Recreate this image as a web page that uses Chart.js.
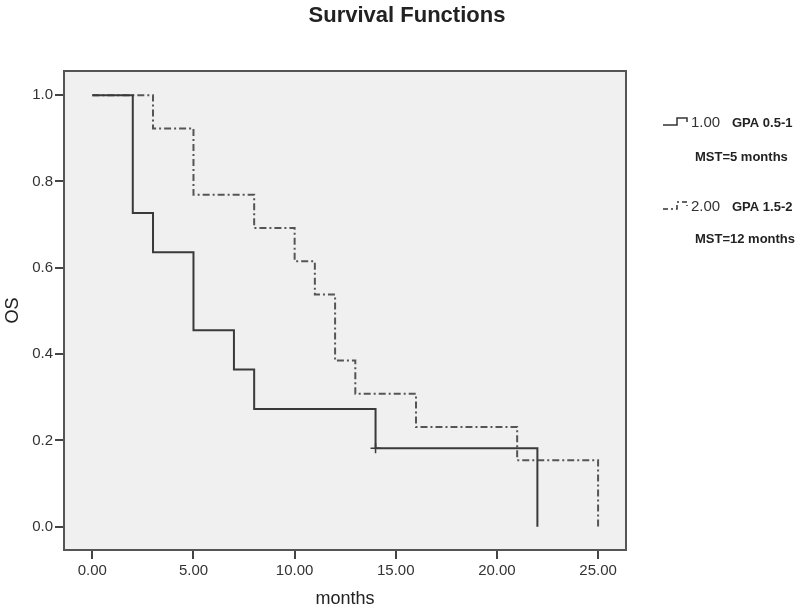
<!DOCTYPE html>
<html>
<head>
<meta charset="utf-8">
<script src="https://cdn.jsdelivr.net/npm/chart.js@4/dist/chart.umd.min.js"></script>
<style>
  body { margin: 0; background: #fff; }
  canvas { display: block; }
</style>
</head>
<body>
<canvas id="km" width="800" height="614"></canvas>
<script>
// Kaplan-Meier steps
const monthsA = [0, 2, 3, 5, 7, 8, 14, 22, 22];
const osA = [1, 0.727, 0.636, 0.455, 0.364, 0.273, 0.182, 0.182, 0];
const monthsB = [0, 3, 5, 8, 10, 11, 12, 13, 16, 21, 25, 25];
const osB = [1, 0.923, 0.769, 0.692, 0.615, 0.538, 0.385, 0.308, 0.231, 0.154, 0.154, 0];
const censorMonthsA = [14];
const censorOsA = [0.182];

const xTicks = [0, 5, 10, 15, 20, 25];
const yTicks = [0, 0.2, 0.4, 0.6, 0.8, 1.0];

const legendCodes = ['1.00', '2.00'];
const legendGroups = ['GPA 0.5-1', 'GPA 1.5-2'];
const legendMst = ['MST=5 months', 'MST=12 months'];

const FONT = '"Liberation Sans", Arial, sans-serif';
const INK = '#333';
const DASH = [7, 3, 2, 3];

const toPoints = (xs, ys) => xs.map((x, i) => ({ x: x, y: ys[i] }));

const frame = {
  id: 'frame',
  beforeDraw(chart) {
    const { ctx, chartArea: a } = chart;
    ctx.save();
    ctx.fillStyle = '#f0f0f0';
    ctx.fillRect(a.left, a.top, a.right - a.left, a.bottom - a.top);
    ctx.restore();
  },
  afterDraw(chart) {
    const { ctx, chartArea: a } = chart;
    ctx.save();
    ctx.strokeStyle = '#555';
    ctx.lineWidth = 2;
    ctx.strokeRect(a.left, a.top, a.right - a.left, a.bottom - a.top);

    // title
    ctx.fillStyle = '#222';
    ctx.font = 'bold 22px ' + FONT;
    ctx.textAlign = 'center';
    ctx.textBaseline = 'middle';
    ctx.fillText('Survival Functions', 407, 16);

    // legend
    const rows = [123, 207];
    const mstRows = [157, 239];
    rows.forEach((y, i) => {
      ctx.strokeStyle = '#333';
      ctx.lineWidth = 1.5;
      ctx.setLineDash(i === 1 ? [5, 3, 2, 3] : []);
      ctx.beginPath();
      ctx.moveTo(663, y + 2);
      ctx.lineTo(677, y + 2);
      ctx.lineTo(677, y - 5);
      ctx.lineTo(687, y - 5);
      ctx.lineTo(687, y - 1);
      ctx.stroke();
      ctx.setLineDash([]);

      ctx.textAlign = 'left';
      ctx.fillStyle = '#333';
      ctx.font = '15px ' + FONT;
      ctx.fillText(legendCodes[i], 691, y);
      ctx.fillStyle = '#222';
      ctx.font = 'bold 13px ' + FONT;
      ctx.fillText(legendGroups[i], 732, y);
      ctx.fillText(legendMst[i], 695, mstRows[i]);
    });
    ctx.restore();
  }
};

new Chart(document.getElementById('km'), {
  type: 'line',
  data: {
    datasets: [
      {
        label: '1.00',
        data: toPoints(monthsA, osA),
        stepped: 'before',
        borderColor: '#3a3a3a',
        borderWidth: 2,
        pointRadius: 0,
        fill: false
      },
      {
        label: '2.00',
        data: toPoints(monthsB, osB),
        stepped: 'before',
        borderColor: '#555',
        borderWidth: 2,
        borderDash: DASH,
        pointRadius: 0,
        fill: false
      },
      {
        label: 'censored',
        type: 'scatter',
        data: toPoints(censorMonthsA, censorOsA),
        pointStyle: 'cross',
        pointRadius: 5,
        borderColor: '#3a3a3a',
        borderWidth: 1.5,
        showLine: false
      }
    ]
  },
  plugins: [frame],
  options: {
    responsive: false,
    animation: false,
    layout: {
      padding: { left: 0, top: 71, right: 174, bottom: 0 }
    },
    plugins: {
      legend: { display: false },
      tooltip: { enabled: false }
    },
    scales: {
      x: {
        type: 'linear',
        min: -1.4,
        max: 26.38,
        afterBuildTicks: (axis) => { axis.ticks = xTicks.map((v) => ({ value: v })); },
        afterFit: (axis) => { axis.height = 64; },
        grid: { drawOnChartArea: false, drawTicks: true, tickLength: 9, color: '#444', lineWidth: 2 },
        border: { display: true, color: '#555', width: 2 },
        ticks: {
          color: INK,
          padding: 3,
          font: { family: FONT, size: 15 },
          callback: (v) => Number(v).toFixed(2)
        },
        title: {
          display: true,
          text: 'months',
          color: '#222',
          padding: { top: 4, bottom: 4 },
          font: { family: FONT, size: 18 }
        }
      },
      y: {
        type: 'linear',
        min: -0.054,
        max: 1.056,
        afterBuildTicks: (axis) => { axis.ticks = yTicks.map((v) => ({ value: v })); },
        afterFit: (axis) => { axis.width = 64; },
        grid: { drawOnChartArea: false, drawTicks: true, tickLength: 9, color: '#444', lineWidth: 2 },
        border: { display: true, color: '#555', width: 2 },
        ticks: {
          color: INK,
          padding: 2,
          font: { family: FONT, size: 15 },
          callback: (v) => Number(v).toFixed(1)
        },
        title: {
          display: true,
          text: 'OS',
          color: '#222',
          padding: { top: 2, bottom: 2 },
          font: { family: FONT, size: 18 }
        }
      }
    }
  }
});
</script>
</body>
</html>
